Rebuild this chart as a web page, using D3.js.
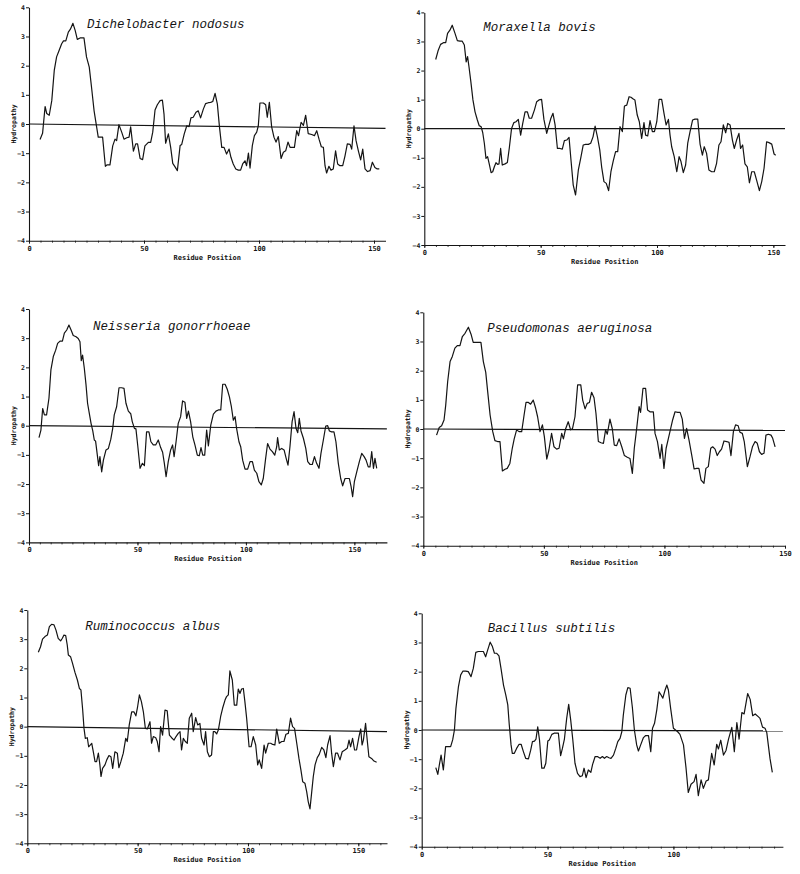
<!DOCTYPE html>
<html>
<head>
<meta charset="utf-8">
<script src="https://cdn.jsdelivr.net/npm/d3@7"></script>
<style>
  body { margin: 0; background: #fff; }
  svg { display: block; }
</style>
</head>
<body>
<div id="chart"></div>
<script>
const width = 800;
const height = 874;

const species = [
  'Dichelobacter nodosus',
  'Moraxella bovis',
  'Neisseria gonorrhoeae',
  'Pseudomonas aeruginosa',
  'Ruminococcus albus',
  'Bacillus subtilis',
];

const xTicks = [0, 50, 100, 150];
const yTicks = [-4, -3, -2, -1, 0, 1, 2, 3, 4];
const xMax = [155, 155, 165, 150, 163, 143.5];
// the hand-ruled zero line drifts a little towards the right end
const zeroDrift = [-0.15, 0, -0.11, -0.05, -0.17, -0.03];

const dichelobacterX = [
  4.8, 5.9, 7, 7.7, 8.8, 9.9, 11, 12, 13, 14.2,
  15, 16, 17.1, 18, 19.1, 20.1, 21, 22.2, 23.9, 25,
  26.2, 27.2, 28.3, 29.4, 30.1, 32, 33.2, 34, 35.2, 36.4,
  37.4, 38.1, 39.1, 40.3, 41.3, 42.5, 43.5, 44.2, 45.4, 46.4,
  47.2, 48.3, 49.4, 50.4, 51.9, 52.9, 53.8, 54.8, 55.8, 57,
  58, 58.7, 59.4, 60.6, 61.6, 62.5, 63.5, 64.5, 65.7, 66.4,
  67.5, 68.6, 69.6, 70.4, 71.4, 72.6, 73.6, 74.6, 75.8, 76.8,
  78, 79, 79.9, 80.9, 81.9, 82.8, 83.8, 84.8, 85.9, 87,
  87.8, 88.8, 89.9, 91, 92, 92.9, 93.9, 94.6, 95.4, 96.1,
  97.1, 98, 99, 99.7, 100.4, 101.9, 102.9, 103.6, 104.5, 105.5,
  106.5, 107.4, 108.4, 109.6, 110.6, 111.6, 112.6, 113.5, 114.6, 115.4,
  116.4, 117.2, 118.3, 119.3, 120.3, 121.4, 122.9, 124.1, 125.1, 126.1,
  127.1, 128, 128.7, 129.4, 130.4, 131.3, 132.3, 133.3, 134.2, 135.2,
  136.4, 137.4, 138.4, 139.6, 140.3, 141.3, 142.2, 143.2, 144.2, 145.1,
  146.1, 147.2, 148.3, 149.3, 150.4, 151.4, 152.3,
];
const dichelobacterY = [
  -0.53, -0.32, 0.6, 0.36, 0.3, 0.8, 1.85, 2.3, 2.5, 2.75,
  2.85, 2.85, 3.15, 3.25, 3.45, 3.2, 2.9, 2.95, 2.95, 2.3,
  1.95, 1.25, 0.45, -0.1, -0.45, -0.45, -1.45, -1.4, -1.4, -0.75,
  -0.52, -0.57, -0.02, -0.28, -0.52, -0.47, -0.45, -0.1, -0.93, -0.68,
  -0.68, -1.18, -1.22, -0.75, -0.63, -0.63, -0.28, 0.48, 0.66, 0.8,
  0.82, 0.34, -0.66, -0.34, -0.8, -1.35, -1.47, -1.6, -0.74, -0.7,
  -0.34, -0.06, -0.09, 0.21, 0.23, 0.4, 0.45, 0.21, 0.51, 0.7,
  0.73, 0.74, 0.77, 1.05, 0.68, -0.09, -0.8, -0.8, -1.03, -0.86,
  -1.14, -1.37, -1.54, -1.58, -1.58, -1.37, -1.26, -1.43, -1.0, -1.51,
  -0.74, -0.4, -0.28, -0.06, 0.72, 0.72, 0.66, 0.23, 0.74, -0.1,
  -0.45, -0.62, -0.43, -1.18, -0.97, -0.92, -0.62, -0.8, -0.8, -0.8,
  -0.23, -0.4, 0.06, -0.05, 0.3, -0.33, -0.36, -0.4, -0.23, -0.52,
  -0.78, -0.8, -1.43, -1.68, -1.45, -1.58, -1.54, -0.92, -1.37, -1.43,
  -1.43, -1.09, -0.68, -0.7, -0.86, -0.06, -0.57, -0.92, -1.23, -0.86,
  -1.54, -1.63, -1.6, -1.31, -1.49, -1.54, -1.54,
];

const moraxellaX = [
  4.9, 6, 7, 8.2, 9.2, 10, 11, 12, 13.2, 14.2,
  15.3, 16.3, 17.2, 18, 18.6, 19.2, 20, 20.9, 21.8, 22.8,
  23.6, 24.4, 25.1, 25.8, 26.5, 27.2, 27.9, 28.7, 29.4, 30.1,
  30.8, 31.5, 32.1, 32.8, 33.5, 34.7, 35.7, 36.5, 37.5, 38.5,
  39.4, 40.4, 41.4, 42.3, 43.3, 44.3, 45.1, 46.1, 47.3, 48.3,
  49.3, 50.4, 51.4, 52.6, 53.6, 54.4, 55.3, 56.2, 57.2, 58.3,
  59.3, 60.2, 61.2, 62.2, 63, 64, 65, 66.2, 67.2, 68.3,
  69.3, 70.5, 71.5, 72.5, 73.4, 74.4, 75.4, 76.2, 77.2, 78.2,
  79.2, 80.2, 81.2, 82.2, 83.1, 84.1, 85.1, 86, 87, 88,
  88.8, 89.8, 90.5, 91.5, 92.4, 93.4, 94.4, 95.1, 96, 97,
  98, 98.9, 99.9, 100.9, 102, 103, 103.9, 104.9, 105.6, 106.3,
  107.4, 108.5, 109.5, 110.3, 111.3, 112.3, 113.2, 114.2, 115.3, 116.3,
  117.5, 118.5, 119.5, 120.3, 121.3, 122.3, 123.5, 124.6, 125.6, 126.6,
  127.5, 128.5, 129.5, 130.4, 131.4, 132.4, 133.2, 134.2, 135.2, 135.9,
  136.8, 137.8, 138.8, 139.7, 140.7, 141.8, 142.8, 144, 145, 146,
  147.1, 148.1, 149.3, 150.3, 151,
];
const moraxellaY = [
  2.38, 2.7, 2.9, 2.96, 2.96, 3.28, 3.39, 3.56, 3.28, 3.03,
  3.01, 3.01, 2.88, 2.3, 2.48, 2.13, 1.62, 0.99, 0.58, 0.3,
  0.1, 0.07, -0.13, -0.5, -1.02, -0.96, -1.21, -1.51, -1.48, -1.31,
  -1.17, -1.23, -1.21, -0.68, -1.25, -1.21, -1.16, -0.68, 0.01, 0.21,
  0.24, 0.32, -0.22, 0.18, 0.58, 0.58, 0.36, 0.36, 0.64, 0.93,
  0.99, 1.01, 0.32, -0.16, 0.13, 0.36, 0.53, 0.13, -0.68, -0.68,
  -0.7, -0.41, -0.39, -0.3, -1.05, -1.94, -2.28, -1.42, -1.02, -0.56,
  -0.54, -0.54, -0.5, -0.28, 0.09, -0.28, -0.73, -1.31, -1.82, -1.88,
  -2.13, -1.48, -1.11, -0.79, -0.79, 0.07, -0.1, 0.78, 0.81, 1.1,
  1.08, 1.02, 0.99, 0.47, 0.24, -0.33, 0.21, -0.22, -0.25, 0.28,
  -0.1, -0.1, 0.24, 1.01, 1.01, 0.53, 0.13, 0.32, -0.22, -0.62,
  -0.96, -1.48, -0.96, -1.13, -1.51, -1.25, -0.5, -0.1, 0.3, 0.33,
  0.33, -0.53, -0.91, -0.62, -0.85, -1.42, -1.48, -1.48, -1.19, -0.56,
  -0.45, 0.13, -0.14, 0.18, 0.13, -0.39, -0.68, -0.39, -0.16, -0.68,
  -0.56, -1.21, -1.31, -1.86, -1.48, -1.48, -1.77, -2.13, -1.82, -1.36,
  -0.45, -0.48, -0.53, -0.87, -0.91,
];

const neisseriaX = [
  4.6, 5.5, 6.3, 7.1, 8.1, 9.2, 10.1, 11.2, 12.3, 13.2,
  14.3, 15.4, 16.3, 17.4, 18.4, 19.4, 20.4, 21.7, 22.7, 23.5,
  24.1, 24.7, 25.5, 26.3, 27, 27.8, 28.6, 29.4, 30.1, 30.7,
  31.5, 32.1, 32.7, 33.5, 34.3, 35.5, 36.6, 37.7, 38.6, 39.3,
  40.4, 41.5, 42.7, 43.8, 44.7, 45.8, 46.9, 47.6, 48.6, 49.3,
  50.1, 51.2, 52.3, 53.2, 54.2, 55.3, 56.2, 57.3, 58.4, 59.6,
  60.7, 61.6, 62.4, 63.2, 64.2, 65.3, 66.2, 66.9, 67.8, 68.8,
  69.9, 70.8, 71.9, 72.7, 73.5, 74.5, 75.5, 76.5, 77.6, 78.5,
  79.3, 80.1, 81, 81.9, 82.7, 83.8, 85, 86.2, 87.3, 88.4,
  89.3, 90.4, 91.4, 92.4, 93.3, 94.2, 95, 95.7, 96.8, 97.6,
  98.5, 99.6, 100.8, 101.9, 103, 103.9, 105, 106, 107.1, 108,
  109.1, 110, 111.1, 112.2, 113.3, 114.2, 114.6, 115.4, 116.5, 117.6,
  118.5, 119.4, 120.3, 121.3, 122.2, 123.1, 123.9, 124.6, 125.4, 126.5,
  127.6, 128.5, 129.6, 130.6, 131.6, 132.6, 133.7, 134.6, 135.7, 136.8,
  137.7, 138.5, 139.5, 140.6, 141.5, 142.6, 143.7, 144.6, 145.7, 146.8,
  147.7, 148.5, 149.2, 150, 151.1, 152.3, 153.4, 154.5, 155.4, 156.4,
  157.2, 158, 158.8, 159.5, 160.3,
];
const neisseriaY = [
  -0.41, -0.15, 0.59, 0.37, 0.37, 0.94, 1.91, 2.37, 2.59, 2.82,
  2.9, 2.9, 3.17, 3.28, 3.45, 3.28, 3.09, 3.05, 2.99, 2.88,
  2.23, 2.42, 1.97, 1.39, 0.77, 0.42, 0.08, -0.18, -0.49, -0.53,
  -1.01, -1.37, -1.06, -1.58, -1.18, -0.83, -0.78, -0.47, -0.09, 0.37,
  0.65, 1.3, 1.3, 1.28, 0.77, 0.5, 0.41, 0.14, -0.09, -0.11,
  -0.66, -1.46, -1.29, -1.37, -0.21, -0.21, -0.55, -0.66, -0.66, -0.49,
  -0.75, -0.91, -1.29, -1.75, -1.23, -0.83, -0.66, -1.06, -0.55, 0.08,
  0.31, 0.85, 0.8, 0.25, 0.5, 0.14, -0.38, -0.66, -1.01, -1.03,
  -0.75, -1.01, -1.01, -0.15, -0.69, 0.02, 0.4, 0.5, 0.54, 0.54,
  1.42, 1.42, 1.25, 0.99, 0.65, 0.19, 0.31, -0.09, -0.55, -0.72,
  -1.18, -1.49, -1.49, -1.23, -1.23, -1.52, -1.63, -1.92, -2.03, -1.81,
  -1.12, -0.61, -0.8, -0.89, -1.01, -0.72, -0.41, -0.83, -0.78, -0.83,
  -1.1, -1.35, -0.72, 0.14, 0.48, -0.09, -0.24, 0.25, -0.18, -0.43,
  -0.78, -1.23, -1.33, -1.33, -1.06, -1.29, -1.46, -0.95, -0.49, -0.01,
  0, -0.18, -0.21, -0.21, -0.55, -1.29, -1.81, -2.06, -1.81, -1.81,
  -1.81, -2.09, -2.43, -1.92, -1.58, -1.23, -0.95, -1.06, -1.18, -1.41,
  -1.41, -0.89, -1.46, -1.12, -1.46,
];

const pseudomonasX = [
  5.5, 6.6, 7.6, 8.6, 9.3, 10.1, 11.1, 12, 13.1, 14.1,
  15.2, 16.2, 17.3, 18.7, 19.8, 20.7, 22.1, 23.9, 24.9, 25.9,
  26.7, 27.7, 28.8, 29.7, 30.8, 31.8, 32.8, 33.9, 34.8, 35.9,
  36.9, 37.7, 38.7, 39.7, 40.8, 41.8, 42.6, 43.6, 44.5, 45.6,
  46.6, 47.4, 48.4, 49.4, 50.2, 51.2, 52.1, 53.2, 54.2, 55.3,
  56.3, 57.4, 58.1, 59, 60.1, 61.1, 61.9, 62.9, 64, 65.3,
  66.1, 67.1, 68, 68.9, 69.8, 70.8, 71.6, 72.6, 73.7, 74.7,
  75.6, 76.3, 77.4, 78.4, 79.2, 80.2, 81.2, 82.3, 83.4, 84.6,
  85.7, 86.7, 87.5, 88.5, 89.5, 90.1, 91.1, 92.2, 93, 94,
  95.4, 96.1, 97.1, 98.2, 98.9, 99.8, 100.7, 101.6, 102.6, 103.4,
  104.4, 105.5, 106.5, 107.4, 108.3, 109.2, 110.2, 111.3, 112.3, 113.4,
  114.3, 115.2, 116.4, 117.2, 118.2, 119.2, 120, 121, 121.9, 122.8,
  123.7, 124.7, 125.8, 126.8, 127.6, 128.6, 129.5, 130.6, 131.3, 132.3,
  133.1, 134.4, 135.5, 136.5, 137.6, 138.5, 139.4, 140.3, 141.3, 142.1,
  143.1, 144.2, 144.9, 145.9,
];
const pseudomonasY = [
  -0.21, 0.05, 0.11, 0.31, 0.82, 1.62, 2.31, 2.48, 2.77, 2.86,
  2.86, 3.17, 3.28, 3.49, 3.25, 2.97, 2.97, 2.97, 2.31, 1.94,
  1.28, 0.48, -0.09, -0.4, -0.43, -0.43, -1.44, -1.38, -1.35, -1.18,
  -0.66, -0.34, -0.03, -0.09, -0.09, 0.48, 0.91, 0.91, 0.85, 0.99,
  0.71, 0.42, -0.09, 0.14, -0.26, -1.03, -0.72, -0.15, -0.61, -0.69,
  -0.66, -0.15, -0.34, 0, 0.25, -0.03, 0.02, 0.42, 1.51, 1.51,
  0.99, 0.69, 0.88, 0.91, 1.26, 1.07, 0.54, -0.43, -0.47, -0.49,
  -0.03, -0.18, 0.34, 0, -0.55, -0.57, -0.34, -0.61, -0.91, -0.97,
  -1.01, -1.52, -0.66, 0.02, 0.77, 0.57, 1.39, 1.39, 0.65, 0.59,
  0.59, -0.15, -0.43, -1.01, -0.53, -1.35, -0.66, -0.34, 0.02, 0.31,
  0.59, 0.57, 0.57, 0.34, -0.32, 0.02, -0.38, -0.89, -1.37, -1.35,
  -1.35, -1.75, -1.86, -1.35, -1.29, -0.66, -0.61, -0.69, -0.91, -0.78,
  -0.69, -0.41, -0.43, -0.46, -0.91, -0.09, 0.14, 0.11, -0.11, -0.15,
  -0.43, -1.29, -0.95, -0.61, -0.43, -0.49, -0.78, -0.87, -0.83, -0.21,
  -0.18, -0.21, -0.32, -0.61,
];

const ruminococcusX = [
  5, 6, 6.9, 8, 9.1, 10, 11, 12.1, 13, 14,
  15.1, 15.9, 16.6, 17.4, 18.1, 18.6, 19.6, 20.5, 21.6, 22.7,
  23.6, 24.3, 25.1, 25.7, 26.3, 27.2, 27.8, 28.5, 29.2, 29.9,
  30.7, 31.4, 32.2, 32.9, 33.4, 34.1, 35.2, 36, 37, 37.9,
  38.7, 39.7, 40.8, 41.5, 42.4, 43.5, 44.6, 45.3, 46.2, 47.3,
  48.3, 49.2, 50, 50.8, 51.7, 52.6, 53.5, 54.4, 55.6, 56.3,
  57.1, 58.2, 58.9, 59.7, 60.4, 61.3, 62.4, 63.4, 64.4, 65.4,
  66.5, 67.4, 68.4, 69.2, 69.9, 70.7, 71.6, 72.5, 73.4, 74.5,
  75.2, 76.3, 77.2, 78.2, 79, 80.1, 80.8, 81.6, 82.5, 83.5,
  84.3, 85, 85.8, 86.6, 87.6, 88.5, 89.6, 90.3, 91.1, 91.8,
  92.9, 93.8, 94.9, 95.6, 96.4, 97.1, 97.9, 98.6, 99.4, 100.5,
  101.4, 102.4, 103.5, 104.4, 105.1, 106.2, 107.3, 108, 109.2, 110.3,
  111.2, 112.2, 113, 114.2, 115.3, 116.3, 117.2, 118.3, 119.3, 120.2,
  121.1, 122.1, 123.1, 124, 124.8, 125.8, 126.6, 127.3, 128.1, 128.9,
  129.6, 130.4, 131.4, 132.3, 133.4, 134.4, 135.3, 136.1, 137.2, 137.9,
  138.7, 139.7, 140.6, 141.7, 142.7, 143.9, 145, 145.8, 146.5, 147.4,
  148.3, 149.2, 150.3, 151.1, 151.7, 152.3, 153.3, 154.1, 154.8, 156,
  157.1, 158.3,
];
const ruminococcusY = [
  2.55, 2.74, 3.0, 3.09, 3.14, 3.43, 3.51, 3.49, 3.31, 3.03,
  2.94, 3.03, 3.14, 3.12, 2.8, 2.46, 2.4, 2.17, 1.86, 1.6,
  1.31, 1.26, 0.57, -0.06, -0.4, -0.38, -0.69, -0.63, -0.57, -0.86,
  -1.2, -1.2, -0.91, -1.31, -1.71, -1.43, -1.31, -1.14, -0.99, -1.03,
  -1.43, -0.86, -0.91, -1.41, -1.2, -0.91, -0.4, -0.51, 0.06, 0.51,
  0.51, 0.37, 0.69, 1.09, 0.86, 0.51, -0.06, -0.08, 0.17, -0.57,
  -0.34, -0.38, -0.51, -0.86, 0, -0.29, 0.57, 0.54, -0.29, -0.38,
  -0.46, -0.34, -0.23, -0.17, -0.8, -0.4, -0.51, -0.57, 0.29, 0.46,
  -0.17, 0.31, 0.06, 0.11, -0.4, -0.63, -0.17, -0.86, -1.03, -0.97,
  -0.17, -0.17, -0.25, -0.11, 0.34, 0.63, 0.91, 1.03, 1.09, 1.91,
  1.6, 0.74, 0.74, 1.29, 1.14, 1.29, 1.31, 0.86, 0.29, -0.69,
  -0.69, -0.34, -0.63, -1.31, -1.14, -1.43, -0.63, -0.91, -0.57, -0.57,
  -0.61, -0.63, -0.08, -0.57, -0.51, -0.51, -0.26, -0.23, 0.29, 0,
  -0.06, -0.57, -1.09, -1.49, -1.89, -1.94, -2.23, -2.57, -2.82, -2.23,
  -1.71, -1.31, -1.06, -0.95, -0.71, -0.8, -1.06, -0.63, -0.31, -0.91,
  -1.37, -0.91, -0.91, -1.14, -0.86, -0.8, -0.74, -0.46, -0.69, -0.4,
  -0.8, -0.8, -0.34, -0.08, -0.63, -0.46, 0.11, -0.51, -1.03, -1.09,
  -1.18, -1.22,
];

const bacillusX = [
  5.6, 6.4, 7, 7.7, 8.6, 9.5, 10.6, 11.5, 12.3, 13,
  13.6, 14.6, 15.5, 16.4, 17.5, 18.5, 19.6, 20.5, 21.5, 22.5,
  23.6, 24.5, 25.4, 26.2, 27.2, 28.1, 28.9, 29.8, 30.7, 31.5,
  32.5, 33.4, 34.2, 34.8, 35.5, 36, 36.8, 37.7, 38.7, 39.5,
  40.4, 41.3, 42.4, 43.3, 44, 44.8, 45.4, 46.1, 46.8, 47.7,
  48.6, 49.3, 50.1, 50.7, 51.7, 52.6, 53.6, 54.3, 55.2, 55.9,
  56.7, 57.6, 58.4, 59.2, 60, 60.9, 61.9, 62.9, 63.8, 64.5,
  65.3, 66.2, 67.2, 67.9, 68.9, 69.8, 70.9, 71.8, 72.6, 73.5,
  74.4, 75.2, 76.2, 77.1, 77.9, 78.8, 79.5, 80.1, 81.1, 81.9,
  82.8, 83.7, 84.5, 85.4, 86.1, 87, 88.1, 89, 90.1, 91,
  91.7, 92.5, 93.4, 94.3, 95.1, 95.8, 96.7, 97.4, 98, 98.9,
  100, 101.7, 102.6, 104, 105, 105.9, 107, 108.2, 109, 109.9,
  111, 111.9, 113, 113.9, 115.2, 116.2, 117.2, 117.9, 118.8, 119.9,
  120.9, 121.9, 123.2, 124.2, 125.2, 126.1, 127.2, 128.1, 129.5, 130.5,
  131.5, 132.5, 133.8, 134.4, 135.4, 136.4, 137.1, 137.7, 138.4, 139.3,
];
const bacillusY = [
  -1.29, -1.52, -1.2, -0.86, -1.37, -0.57, -0.57, -0.57, -0.34, 0,
  0.74, 1.49, 1.89, 2.02, 2.02, 2, 1.83, 2.11, 2.66, 2.69,
  2.69, 2.69, 2.51, 2.74, 3.01, 2.86, 2.63, 2.63, 2.54, 2.11,
  1.54, 1.2, 0.86, 0.17, -0.51, -0.8, -0.8, -0.63, -0.49, -0.49,
  -0.74, -0.97, -0.99, -0.69, -0.4, -0.38, -0.31, 0.11, -0.34, -1.31,
  -1.31, -1.14, -0.38, -0.34, -0.15, -0.11, -0.11, -0.11, -0.88, -0.63,
  -0.31, 0.4, 0.88, 0.34, -0.31, -1.14, -1.49, -1.6, -1.57, -1.31,
  -1.63, -1.37, -1.45, -1.18, -0.91, -0.91, -0.97, -0.91, -0.97, -0.91,
  -0.95, -0.97, -0.86, -0.63, -0.4, -0.29, -0.06, 0.51, 1.2, 1.45,
  1.43, 0.77, 0, -0.51, -0.72, -0.51, -0.26, -0.19, -0.19, -0.74,
  0.06, 0.23, 0.69, 1.31, 1.2, 1.09, 1.37, 1.54, 1.37, 0.74,
  0.06, -0.06, -0.15, -0.51, -1.29, -2.14, -1.86, -1.77, -1.52, -2.25,
  -1.71, -2.0, -1.75, -1.71, -0.8, -1.2, -0.49, -0.65, -0.35, -0.86,
  -0.7, -0.31, 0.09, -0.74, 0.25, -0.31, 0.6, 0.55, 1.25, 1.05,
  0.49, 0.55, 0.45, 0.4, 0.1, 0.06, -0.09, -0.51, -0.99, -1.45,
];

const seriesX = [dichelobacterX, moraxellaX, neisseriaX, pseudomonasX, ruminococcusX, bacillusX];
const seriesY = [dichelobacterY, moraxellaY, neisseriaY, pseudomonasY, ruminococcusY, bacillusY];

// frame of each panel on the page, as it sits on the scanned sheet
const layout = [
  { left: 29, right: 385.5, top: 7.3, bottom: 240.7, titleDx: 58, titleDy: 21 },
  { left: 424.3, right: 785, top: 12.4, bottom: 245, titleDx: 59, titleDy: 19 },
  { left: 29, right: 386.9, top: 309, bottom: 542.4, titleDx: 64, titleDy: 21 },
  { left: 423.3, right: 785, top: 312.3, bottom: 545.7, titleDx: 64, titleDy: 19.5 },
  { left: 27.3, right: 387, top: 610, bottom: 843.3, titleDx: 58, titleDy: 20 },
  { left: 421.7, right: 782.9, top: 613.3, bottom: 846.7, titleDx: 66, titleDy: 18.5 },
];

const ink = '#141414';
const tickFont = "'DejaVu Sans Mono', monospace";

const svg = d3
  .select('#chart')
  .append('svg')
  .attr('width', width)
  .attr('height', height)
  .attr('viewBox', [0, 0, width, height]);

svg.append('rect').attr('width', width).attr('height', height).attr('fill', '#fff');

const drawPanel = (i) => {
  const box = layout[i];
  const g = svg.append('g').attr('class', 'panel');

  const xScale = d3.scaleLinear().domain([0, xMax[i]]).range([box.left, box.right]);
  const yScale = d3.scaleLinear().domain([-4, 4]).range([box.bottom, box.top]);

  // minor ticks along the residue axis
  g.append('g')
    .attr('transform', `translate(0, ${box.bottom})`)
    .call(
      d3.axisBottom(xScale)
        .tickValues(d3.range(0, xMax[i], 5))
        .tickSize(2)
        .tickSizeOuter(0)
        .tickFormat('')
    )
    .call((a) => a.select('.domain').remove())
    .call((a) => a.selectAll('line').attr('stroke', ink).attr('stroke-width', 0.8));

  const xAxis = d3
    .axisBottom(xScale)
    .tickValues(xTicks.filter((t) => t <= xMax[i]))
    .tickSize(3)
    .tickSizeOuter(0)
    .tickPadding(2);

  g.append('g')
    .attr('class', 'x-axis')
    .attr('transform', `translate(0, ${box.bottom})`)
    .call(xAxis)
    .call((a) => a.select('.domain').attr('stroke', ink).attr('stroke-width', 1.1))
    .call((a) => a.selectAll('line').attr('stroke', ink))
    .call((a) =>
      a.selectAll('text')
        .attr('font-family', tickFont)
        .attr('font-size', 7)
        .attr('font-weight', 'bold')
        .attr('fill', ink)
    );

  const yAxis = d3
    .axisLeft(yScale)
    .tickValues(yTicks)
    .tickSize(3)
    .tickSizeOuter(0)
    .tickPadding(1)
    .tickFormat(d3.format('d'));

  g.append('g')
    .attr('class', 'y-axis')
    .attr('transform', `translate(${box.left}, 0)`)
    .call(yAxis)
    .call((a) => a.select('.domain').attr('stroke', ink).attr('stroke-width', 1.1))
    .call((a) => a.selectAll('line').attr('stroke', ink))
    .call((a) =>
      a.selectAll('text')
        .attr('font-family', tickFont)
        .attr('font-size', 6.5)
        .attr('font-weight', 'bold')
        .attr('fill', ink)
    );

  // zero reference line
  g.append('line')
    .attr('x1', xScale(0))
    .attr('x2', xScale(xMax[i]))
    .attr('y1', yScale(0))
    .attr('y2', yScale(zeroDrift[i]))
    .attr('stroke', ink)
    .attr('stroke-width', 1.2);

  // hydropathy trace
  const points = d3.zip(seriesX[i], seriesY[i]);
  const line = d3
    .line()
    .x((d) => xScale(d[0]))
    .y((d) => yScale(d[1]));

  g.append('path')
    .datum(points)
    .attr('d', line)
    .attr('fill', 'none')
    .attr('stroke', ink)
    .attr('stroke-width', 1.2)
    .attr('stroke-linejoin', 'round');

  // labels
  g.append('text')
    .attr('x', box.left + box.titleDx)
    .attr('y', box.top + box.titleDy)
    .attr('font-family', "'Liberation Mono', 'DejaVu Sans Mono', monospace")
    .attr('font-style', 'italic')
    .attr('font-size', 12.5)
    .attr('fill', ink)
    .text(species[i]);

  g.append('text')
    .attr('x', (box.left + box.right) / 2)
    .attr('y', box.bottom + 19)
    .attr('text-anchor', 'middle')
    .attr('font-family', tickFont)
    .attr('font-size', 7)
    .attr('font-weight', 'bold')
    .attr('fill', ink)
    .text('Residue Position');

  g.append('text')
    .attr('transform', `translate(${box.left - 13}, ${yScale(0)}) rotate(-90)`)
    .attr('text-anchor', 'middle')
    .attr('font-family', tickFont)
    .attr('font-size', 6.5)
    .attr('font-weight', 'bold')
    .attr('fill', ink)
    .text('Hydropathy');
};

species.forEach((name, i) => drawPanel(i));
</script>
</body>
</html>
